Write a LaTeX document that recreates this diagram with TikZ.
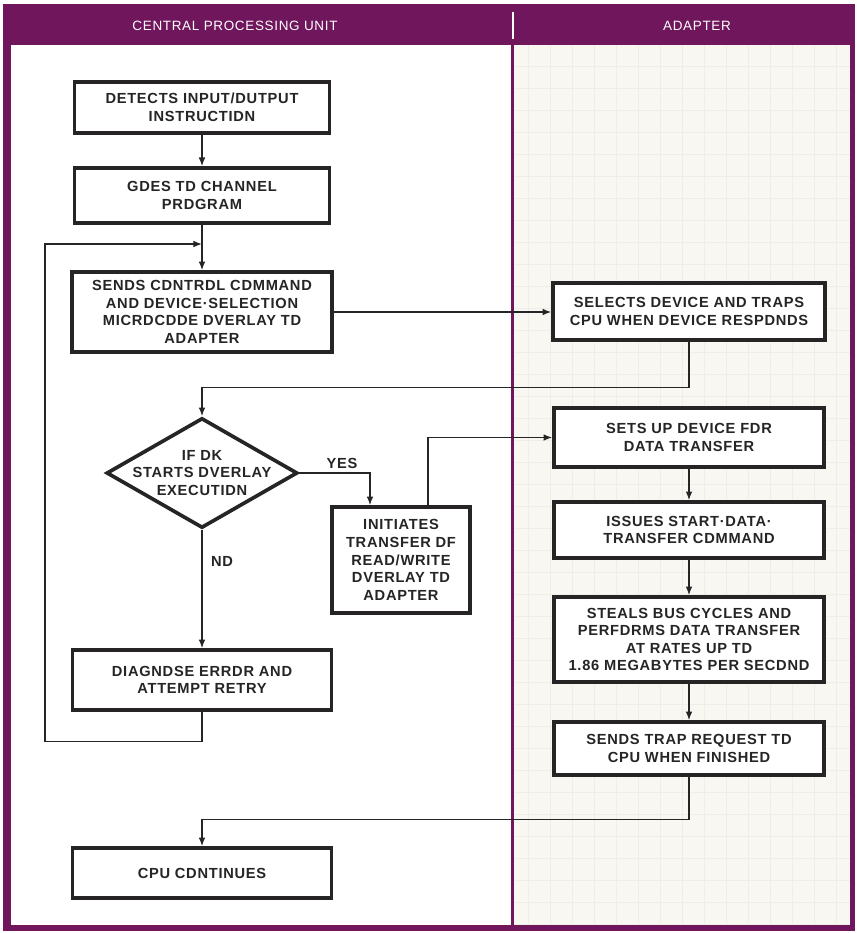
\documentclass[tikz,border=0pt]{standalone}
\usepackage{fontspec}
\setmainfont{Liberation Sans}[LetterSpace=5]
\usetikzlibrary{arrows.meta,shapes.geometric}
\definecolor{framepurple}{RGB}{112,22,92}
\definecolor{paper}{RGB}{249,247,242}
\definecolor{paperline}{RGB}{240,237,230}
\definecolor{ink}{RGB}{38,36,36}
\newcommand{\boxtext}{\bfseries\fontsize{12.5}{15}\selectfont}
\begin{document}
\begin{tikzpicture}[x=0.3mm,y=-0.3mm,
    procbox/.style={draw=ink, line width=1.1mm, fill=white, align=center, inner sep=0pt, text=ink, font=\boxtext},
    decbox/.style={draw=ink, diamond, line width=1.1mm, fill=white, inner sep=0pt, minimum width=57.3mm, minimum height=33mm},
    conn/.style={draw=ink, line width=1pt, -{Latex[length=2.6mm,width=2mm]}},
    lbl/.style={text=ink, font=\boxtext},
    headtext/.style={text=white, font=\fontsize{11.5}{13}\selectfont}]
    \useasboundingbox (0,0) rectangle (857,933);
    % frame and the two columns
    \fill[framepurple] (3,4) rectangle (855,931);
    \fill[white] (11,45) rectangle (511,925);
    \fill[paper] (514,45) rectangle (850,925);
    \draw[paperline, line width=0.3pt, step=6.6mm] (514,45) grid (850,925);
    \draw[white, line width=0.5mm] (513,12) -- (513,39);
    \node[headtext] (cpuhead) at (235,26) {CENTRAL PROCESSING UNIT};
    \node[headtext] (adphead) at (697,26) {ADAPTER};
    % central processing unit
    \node[procbox, minimum width=76.5mm, minimum height=15.3mm] (detect) at (202,107.5) {DETECTS INPUT/DUTPUT\\INSTRUCTIDN};
    \node[procbox, minimum width=76.5mm, minimum height=16.5mm] (goes) at (202,195.5) {GDES TD CHANNEL\\PRDGRAM};
    \node[procbox, minimum width=78mm, minimum height=24mm] (sends) at (202,312) {SENDS CDNTRDL CDMMAND\\AND DEVICE·SELECTION\\MICRDCDDE DVERLAY TD\\ADAPTER};
    \node[decbox, label={[lbl, align=center]center:IF DK\\STARTS DVERLAY\\EXECUTIDN}] (dec) at (202,473) {};
    \node[procbox, minimum width=41.4mm, minimum height=31.8mm] (init) at (401,560) {INITIATES\\TRANSFER DF\\READ/WRITE\\DVERLAY TD\\ADAPTER};
    \node[procbox, minimum width=77.7mm, minimum height=18mm] (diag) at (202,680) {DIAGNDSE ERRDR AND\\ATTEMPT RETRY};
    \node[procbox, minimum width=77.7mm, minimum height=15mm] (cont) at (202,873) {CPU CDNTINUES};
    \node[lbl] (yes) at (342,463) {YES};
    \node[lbl] (no) at (222,561) {ND};
    \coordinate (join) at (202,244);
    % adapter
    \node[procbox, minimum width=81.6mm, minimum height=17.1mm] (selects) at (689,311.5) {SELECTS DEVICE AND TRAPS\\CPU WHEN DEVICE RESPDNDS};
    \node[procbox, minimum width=81mm, minimum height=17.7mm] (setsup) at (689,437.5) {SETS UP DEVICE FDR\\DATA TRANSFER};
    \node[procbox, minimum width=81mm, minimum height=16.8mm] (issues) at (689,530) {ISSUES START·DATA·\\TRANSFER CDMMAND};
    \node[procbox, minimum width=81mm, minimum height=25.5mm] (steals) at (689,639.5) {STEALS BUS CYCLES AND\\PERFDRMS DATA TRANSFER\\AT RATES UP TD\\1.86 MEGABYTES PER SECDND};
    \node[procbox, minimum width=81mm, minimum height=15.9mm] (trap) at (689,748.5) {SENDS TRAP REQUEST TD\\CPU WHEN FINISHED};
    % connectors
    \draw[conn] (detect) -- (goes);
    \draw[conn] (goes) -- (sends);
    \draw[conn] (sends.east) -- (sends.east -| selects.west);
    \draw[conn] (selects.south) -- ++(0,46) -| (dec.north);
    \draw[conn] (dec.east) -| ([xshift=-9.3mm]init.north);
    \draw[conn] ([xshift=8.1mm]init.north) |- (setsup.west);
    \draw[conn] (dec.south) -- (diag.north);
    \draw[conn] (diag.south) -- ++(0,30) -| (45,244) -- (join);
    \draw[conn] (setsup) -- (issues);
    \draw[conn] (issues) -- (steals);
    \draw[conn] (steals) -- (trap);
    \draw[conn] (trap.south) -- ++(0,43) -| (cont.north);
\end{tikzpicture}
\end{document}
